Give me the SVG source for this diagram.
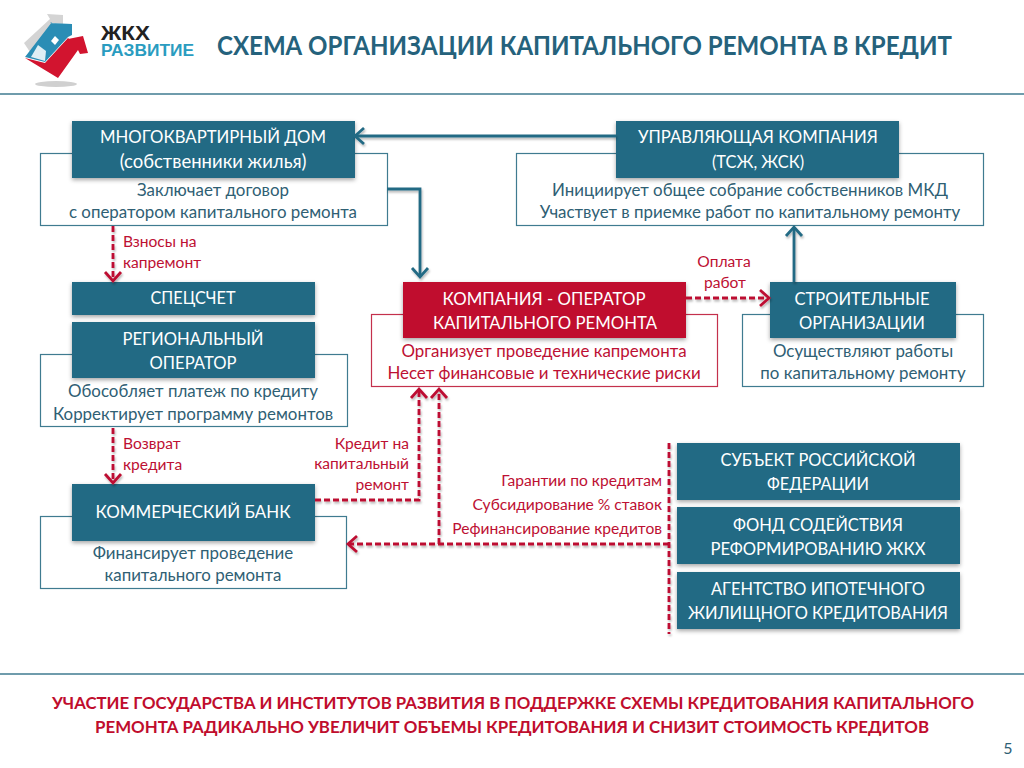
<svg xmlns="http://www.w3.org/2000/svg" width="1024" height="768" viewBox="0 0 1024 768">
<style>
text{font-family:"Lato","Carlito","Open Sans",sans-serif}
.t{font-size:17.5px;fill:#fff;text-anchor:middle}
.d{font-size:16.9px;fill:#2f6074;text-anchor:middle}
.dr{font-size:16.9px;fill:#bd1033;text-anchor:middle}
.l{font-size:15.6px;fill:#bd1033}
.e{text-anchor:end}
.m{text-anchor:middle}
.b{fill:#fff;stroke:#3f7b90;stroke-width:1.2}
.n{fill:#236a84;filter:url(#s)}
.sol{fill:none;stroke:#236a84;stroke-width:2.8}
.das{fill:none;stroke:#bd1033;stroke-width:2.8;stroke-dasharray:6 3}
.f{font-size:17.5px;font-weight:700;fill:#c00d2d;text-anchor:middle}
</style>
<defs>
<filter id="s" x="-10%" y="-20%" width="120%" height="140%"><feDropShadow dx="0" dy="2" stdDeviation="2" flood-color="#000" flood-opacity=".35"/></filter>
<filter id="c" filterUnits="userSpaceOnUse" x="0" y="0" width="1024" height="768"><feDropShadow dx="1" dy="2" stdDeviation="1.2" flood-color="#000" flood-opacity=".28"/></filter>
<marker id="ab" markerUnits="userSpaceOnUse" markerWidth="18" markerHeight="20" refX="11" refY="10" orient="auto"><path d="M2 2 L11 10 L2 18" fill="none" stroke="#236a84" stroke-width="2.8"/></marker>
<marker id="ar" markerUnits="userSpaceOnUse" markerWidth="18" markerHeight="20" refX="11" refY="10" orient="auto"><path d="M2 2 L11 10 L2 18" fill="none" stroke="#bd1033" stroke-width="2.8"/></marker>
</defs>
<rect width="1024" height="768" fill="#fff"/>
<g id="logo">
<ellipse cx="56" cy="84" rx="21" ry="3" fill="#d0d0d0"/>
<path d="M47 14 L63 15 L63 24 L53 23 L30 52 L24 43 L50 19Z" fill="#d4d4d4"/>
<path d="M25 57 L52 22 L50 23 L72 24 L72 35 L68 37 L45 62Z" fill="#2a8db5"/>
<path d="M25 58 L45 63 L68 38 L70 40 L68 39 L83 36 L88 53 L80 54 L78 50 L58 78Z" fill="#d2142f"/>
<path d="M55 36 L59 40 L55 45 L51 41Z" fill="#fff"/>
<path d="M38 45 L46 51 L45 61 L31 57Z" fill="#fff" opacity=".85"/>
<text x="101" y="40" style="font-family:'Liberation Sans',sans-serif;font-weight:700;font-size:20px;fill:#222" textLength="49" lengthAdjust="spacingAndGlyphs">ЖКХ</text>
<text x="101" y="56" style="font-family:'Liberation Sans',sans-serif;font-weight:700;font-size:17px;fill:#2a9cc0" textLength="93" lengthAdjust="spacingAndGlyphs">РАЗВИТИЕ</text>
</g>
<text id="title" x="217" y="55" style="font-size:26px;font-weight:700;fill:#25627c" textLength="735" lengthAdjust="spacingAndGlyphs">СХЕМА ОРГАНИЗАЦИИ КАПИТАЛЬНОГО РЕМОНТА В КРЕДИТ</text>
<line x1="0" y1="94" x2="1024" y2="94" stroke="#3f7b90" stroke-width="1.5"/>
<line x1="0" y1="674" x2="1024" y2="674" stroke="#3f7b90" stroke-width="1.5"/>

<g id="mkd"><rect class="b" x="40.500" y="153.500" width="347" height="72"/><rect class="n" x="72" y="121" width="283" height="57"/>
<text class="t" x="213" y="143" textLength="226" lengthAdjust="spacingAndGlyphs">МНОГОКВАРТИРНЫЙ ДОМ</text><text class="t" style="font-size:18.500px" x="213" y="168">(собственники жилья)</text>
<text class="d" x="213" y="196">Заключает договор</text><text class="d" x="213" y="218">с оператором капитального ремонта</text></g>
<g id="uk"><rect class="b" x="516.500" y="153.500" width="467" height="72"/><rect class="n" x="616" y="121" width="283" height="57"/>
<text class="t" x="758" y="143" textLength="240" lengthAdjust="spacingAndGlyphs">УПРАВЛЯЮЩАЯ КОМПАНИЯ</text><text class="t" x="758" y="168" textLength="92" lengthAdjust="spacingAndGlyphs">(ТСЖ, ЖСК)</text>
<text class="d" x="750" y="196">Инициирует общее собрание собственников МКД</text><text class="d" x="750" y="218">Участвует в приемке работ по капитальному ремонту</text></g>
<g id="spec"><rect class="n" x="72" y="282" width="243" height="33"/><text class="t" x="193" y="304" textLength="85" lengthAdjust="spacingAndGlyphs">СПЕЦСЧЕТ</text></g>
<g id="reg"><rect class="b" x="40.500" y="354.500" width="307" height="72"/><rect class="n" x="72" y="322" width="243" height="56"/>
<text class="t" x="193" y="345" textLength="141" lengthAdjust="spacingAndGlyphs">РЕГИОНАЛЬНЫЙ</text><text class="t" x="193" y="369" textLength="87" lengthAdjust="spacingAndGlyphs">ОПЕРАТОР</text>
<text class="d" x="193" y="397">Обособляет платеж по кредиту</text><text class="d" x="193" y="420">Корректирует программу ремонтов</text></g>
<g id="bank"><rect class="b" x="40.500" y="516.500" width="306" height="72"/><rect class="n" x="72" y="484" width="243" height="57"/>
<text class="t" x="193" y="518" textLength="195" lengthAdjust="spacingAndGlyphs">КОММЕРЧЕСКИЙ БАНК</text>
<text class="d" x="193" y="559">Финансирует проведение</text><text class="d" x="193" y="581">капитального ремонта</text></g>
<g id="oper"><rect class="b" style="stroke:#c4304c" x="371.500" y="314.500" width="346" height="72"/><rect class="n" style="fill:#c00d2d" x="403" y="282" width="283" height="56"/>
<text class="t" x="544" y="305" textLength="203" lengthAdjust="spacingAndGlyphs">КОМПАНИЯ - ОПЕРАТОР</text><text class="t" x="545" y="329" textLength="224" lengthAdjust="spacingAndGlyphs">КАПИТАЛЬНОГО РЕМОНТА</text>
<text class="dr" x="544" y="357">Организует проведение капремонта</text><text class="dr" x="544" y="379">Несет финансовые и технические риски</text></g>
<g id="build"><rect class="b" x="742.500" y="314.500" width="241" height="72"/><rect class="n" x="770" y="282" width="186" height="56"/>
<text class="t" x="862" y="305" textLength="135" lengthAdjust="spacingAndGlyphs">СТРОИТЕЛЬНЫЕ</text><text class="t" x="862" y="329" textLength="126" lengthAdjust="spacingAndGlyphs">ОРГАНИЗАЦИИ</text>
<text class="d" x="863" y="357">Осуществляют работы</text><text class="d" x="863" y="379">по капитальному ремонту</text></g>
<g id="subj"><rect class="n" x="677" y="443" width="283" height="57"/><text class="t" x="818" y="466" textLength="195" lengthAdjust="spacingAndGlyphs">СУБЪЕКТ РОССИЙСКОЙ</text><text class="t" x="818" y="490" textLength="102" lengthAdjust="spacingAndGlyphs">ФЕДЕРАЦИИ</text></g>
<g id="fund"><rect class="n" x="677" y="507" width="283" height="57"/><text class="t" x="818" y="531" textLength="170" lengthAdjust="spacingAndGlyphs">ФОНД СОДЕЙСТВИЯ</text><text class="t" x="818" y="555" textLength="215" lengthAdjust="spacingAndGlyphs">РЕФОРМИРОВАНИЮ ЖКХ</text></g>
<g id="agency"><rect class="n" x="677" y="572" width="283" height="57"/><text class="t" x="818" y="595" textLength="214" lengthAdjust="spacingAndGlyphs">АГЕНТСТВО ИПОТЕЧНОГО</text><text class="t" x="818" y="619" textLength="260" lengthAdjust="spacingAndGlyphs">ЖИЛИЩНОГО КРЕДИТОВАНИЯ</text></g>

<g id="connectors">
<path class="sol" filter="url(#c)" d="M616 136 H355" marker-end="url(#ab)"/>
<path class="sol" filter="url(#c)" d="M387 189 H420 V277" marker-end="url(#ab)"/>
<path class="sol" filter="url(#c)" d="M794 282 V227" marker-end="url(#ab)"/>
<path class="das" filter="url(#c)" d="M113 226 V281" marker-end="url(#ar)"/>
<path class="das" filter="url(#c)" d="M113 428 V483" marker-end="url(#ar)"/>
<path class="das" filter="url(#c)" d="M686 298 H769" marker-end="url(#ar)"/>
<path class="das" filter="url(#c)" d="M315 500 H419 V389" marker-end="url(#ar)"/>
<path class="das" filter="url(#c)" d="M439 544 V389" marker-end="url(#ar)"/>
<path class="das" filter="url(#c)" d="M669 544 H348" marker-end="url(#ar)"/>
<path class="das" filter="url(#c)" d="M669 443 V634"/>
</g>

<g id="labels">
<text class="l" x="123" y="247">Взносы на</text><text class="l" x="123" y="268">капремонт</text>
<text class="l" x="123" y="449">Возврат</text><text class="l" x="123" y="470">кредита</text>
<text class="l e" x="409" y="449">Кредит на</text><text class="l e" x="409" y="469">капитальный</text><text class="l e" x="409" y="490">ремонт</text>
<text class="l m" x="724" y="267">Оплата</text><text class="l m" x="725" y="288">работ</text>
<text class="l e" x="662" y="486">Гарантии по кредитам</text><text class="l e" x="662" y="510">Субсидирование % ставок</text><text class="l e" x="662" y="534">Рефинансирование кредитов</text>
</g>
<g id="footer">
<text class="f" x="513" y="709" textLength="922" lengthAdjust="spacingAndGlyphs">УЧАСТИЕ ГОСУДАРСТВА И ИНСТИТУТОВ РАЗВИТИЯ В ПОДДЕРЖКЕ СХЕМЫ КРЕДИТОВАНИЯ КАПИТАЛЬНОГО</text>
<text class="f" x="512" y="733" textLength="834" lengthAdjust="spacingAndGlyphs">РЕМОНТА РАДИКАЛЬНО УВЕЛИЧИТ ОБЪЕМЫ КРЕДИТОВАНИЯ И СНИЗИТ СТОИМОСТЬ КРЕДИТОВ</text>
<text x="1008" y="754" style="font-size:16px;fill:#2f6074;text-anchor:middle">5</text>
</g>
</svg>
